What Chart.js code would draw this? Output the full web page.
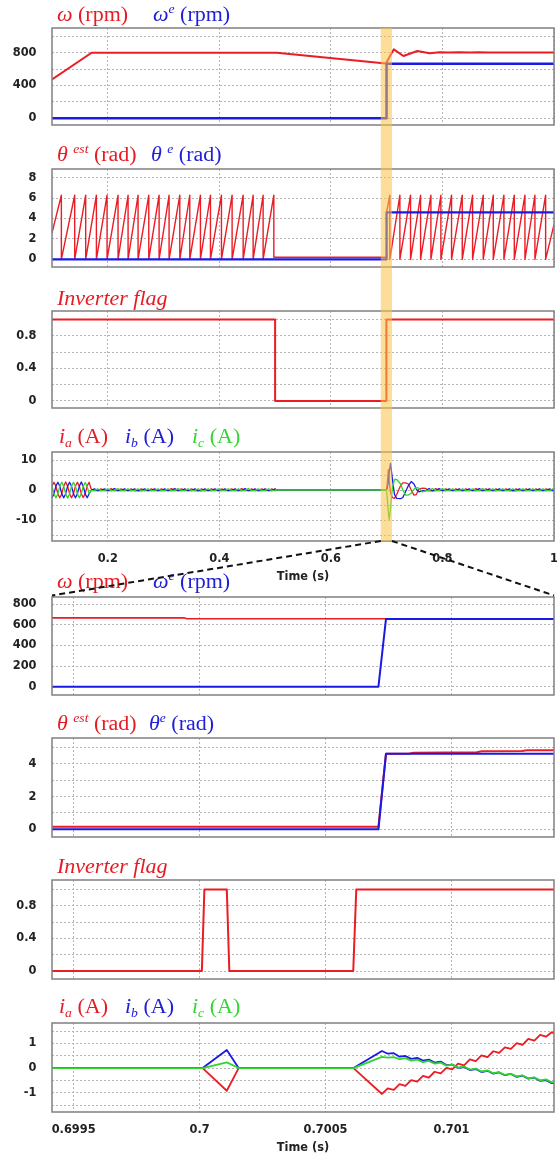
<!DOCTYPE html>
<html>
<head>
<meta charset="utf-8">
<title>Restart transient</title>
<script src="https://cdn.jsdelivr.net/npm/chart.js@4.4.1/dist/chart.umd.min.js"></script>
<style>
  html, body { margin: 0; padding: 0; background: #fff; }
  body { position: relative; width: 557px; height: 1157px; overflow: hidden; }
  canvas { position: absolute; left: 0; display: block; z-index: 1; }
  #overlay { top: 0; z-index: 5; pointer-events: none; }
  .t { position: absolute; z-index: 4; font: 20px/20px "Liberation Serif", "Times New Roman", serif;
       white-space: nowrap; transform: scaleX(1.1); transform-origin: 0 0; }
  .t i { font-style: italic; }
  .t sup { font-size: 62%; line-height: 0; position: relative; top: -0.65em; vertical-align: baseline; font-style: italic; }
  .t sub { font-size: 62%; line-height: 0; position: relative; top: 0.3em; vertical-align: baseline; }
  .red { color: #e51c24; }
  .blue { color: #2020d8; }
  .green { color: #33d633; }
</style>
</head>
<body>
<canvas id="overlay" width="557" height="1157"></canvas>
<script>
// ---- time axes ----
var fullRange = [0.1, 1.0];
var fullTicks = [0.2, 0.4, 0.6, 0.8, 1];
var zoomRange = [0.699414, 0.701407];
var zoomTicks = [0.6995, 0.7, 0.7005, 0.701];
var highlight = [0.6895, 0.7095];

// ---- speed, whole run ----
var speedEstT = [0.1, 0.171, 0.503, 0.6985, 0.7127, 0.73, 0.755, 0.777, 0.795, 0.81, 0.83, 0.85, 0.865, 0.88, 1.0];
var speedEst  = [475, 800, 800, 670, 841, 760, 821, 793, 805, 802, 806, 802, 807, 803, 803];
var speedEncT = [0.1, 0.6995, 0.6998, 1.0];
var speedEnc  = [0, 0, 665, 665];

// ---- angle, whole run (sawtooth peaks) ----
var thetaPeaksRun = [0.1168, 0.1407, 0.1604, 0.1796, 0.1987, 0.2184, 0.2364, 0.2543, 0.2735, 0.2920, 0.3099,
                     0.3291, 0.3470, 0.3661, 0.3841, 0.4038, 0.4229, 0.4427, 0.4606, 0.4785, 0.4977];
var thetaPeaksRestart = [0.7057, 0.7237, 0.7428, 0.7608, 0.7793, 0.7972, 0.8163, 0.8355, 0.8540, 0.8731,
                         0.8911, 0.9102, 0.9288, 0.9479, 0.9658, 0.9850];
var thetaStart = 2.6, thetaTop = 6.28, thetaHold = 0.2, thetaCatch = 4.6, thetaEnd = 3.4;
var thetaCatchT = [0.6995, 0.6998];
var thetaEncT = [0.1, 0.6995, 0.6998, 1.0];
var thetaEnc  = [0, 0, 4.6, 4.6];

// ---- inverter flag, whole run ----
var flagT = [0.1, 0.5, 0.5, 0.6995, 0.6995, 1.0];
var flag  = [1, 1, 0, 0, 1, 1];

// ---- phase currents, whole run ----
var tCur = [
  0.1, 0.1035, 0.107, 0.1105, 0.114, 0.1175, 0.121, 0.1245, 0.128, 0.1315, 0.135, 0.1385, 0.142, 0.1455, 0.149, 0.1525, 0.156, 0.1595, 0.163, 0.1665,
  0.17, 0.176, 0.182, 0.188, 0.194, 0.2, 0.206, 0.212, 0.218, 0.224, 0.23, 0.236, 0.242, 0.248, 0.254, 0.26, 0.266, 0.272, 0.278, 0.284,
  0.29, 0.296, 0.302, 0.308, 0.314, 0.32, 0.326, 0.332, 0.338, 0.344, 0.35, 0.356, 0.362, 0.368, 0.374, 0.38, 0.386, 0.392, 0.398, 0.404,
  0.41, 0.416, 0.422, 0.428, 0.434, 0.44, 0.446, 0.452, 0.458, 0.464, 0.47, 0.476, 0.482, 0.488, 0.494, 0.5,
  0.5005, 0.6995,
  0.701, 0.703, 0.7045, 0.707, 0.71, 0.714, 0.718, 0.725, 0.729, 0.734, 0.739, 0.744, 0.749, 0.753, 0.758, 0.764,
  0.77, 0.776, 0.782, 0.788, 0.794, 0.8, 0.806, 0.812, 0.818, 0.824, 0.83, 0.836, 0.842, 0.848, 0.854, 0.86, 0.866, 0.872, 0.878, 0.884,
  0.89, 0.896, 0.902, 0.908, 0.914, 0.92, 0.926, 0.932, 0.938, 0.944, 0.95, 0.956, 0.962, 0.968, 0.974, 0.98, 0.986, 0.992, 0.998, 1.004
];
var ia = [
  1.3, 2.6, 1.3, -1.3, -2.6, -1.3, 1.3, 2.7, 1.3, -1.3, -2.6, -1.3, 1.3, 2.6, 1.3, -1.3, -2.5, -1.2, 1.3, 2.6,
  0.4, -0.2, -0.2, 0.4, -0.2, -0.2, 0.45, -0.2, -0.2, 0.4, -0.2, -0.2, 0.4, -0.25, -0.2, 0.4, -0.2, -0.2, 0.4, -0.2,
  -0.2, 0.4, -0.2, -0.2, 0.45, -0.2, -0.2, 0.4, -0.2, -0.2, 0.4, -0.2, -0.25, 0.4, -0.2, -0.2, 0.4, -0.2, -0.2, 0.4,
  -0.2, -0.2, 0.4, -0.2, -0.2, 0.45, -0.2, -0.2, 0.4, -0.2, -0.2, 0.4, -0.2, -0.2, 0.4, -0.2,
  0, 0,
  2.0, 6.8, 3.0, -1.0, -2.5, -2.8, -1.5, 1.5, 2.4, 2.4, 2.0, 0.0, -1.7, -1.5, 0.3, 0.6,
  0.5, -0.25, -0.25, 0.45, -0.2, -0.2, 0.4, -0.2, -0.2, 0.4, -0.2, -0.2, 0.4, -0.2, -0.2, 0.45, -0.2, -0.2, 0.4, -0.2,
  -0.2, 0.4, -0.2, -0.2, 0.4, -0.25, -0.2, 0.4, -0.2, -0.2, 0.4, -0.2, -0.2, 0.4, -0.2, -0.2, 0.4, -0.2, -0.2, 0.4
];
var ib = [
  -2.6, -1.3, 1.3, 2.6, 1.3, -1.3, -2.6, -1.3, 1.3, 2.6, 1.3, -1.3, -2.6, -1.3, 1.3, 2.7, 1.3, -1.3, -2.6, -1.3,
  -0.2, 0.4, -0.2, -0.2, 0.4, -0.2, -0.2, 0.45, -0.2, -0.2, 0.4, -0.2, -0.2, 0.4, -0.25, -0.2, 0.4, -0.2, -0.2, 0.4,
  -0.2, -0.2, 0.4, -0.2, -0.2, 0.45, -0.2, -0.2, 0.4, -0.2, -0.2, 0.4, -0.2, -0.25, 0.4, -0.2, -0.2, 0.4, -0.2, -0.2,
  0.4, -0.2, -0.2, 0.4, -0.2, -0.2, 0.45, -0.2, -0.2, 0.4, -0.2, -0.2, 0.4, -0.2, -0.2, 0.4,
  0, 0,
  0.5, 2.5, 6.0, 8.9, 4.0, -1.5, -2.8, -2.9, -2.5, -0.5, 1.5, 2.8, 2.0, 0.3, -0.6, -0.2,
  -0.25, 0.5, -0.25, -0.2, 0.45, -0.2, -0.2, 0.4, -0.2, -0.2, 0.4, -0.2, -0.2, 0.4, -0.2, -0.2, 0.45, -0.2, -0.2, 0.4,
  -0.2, -0.2, 0.4, -0.2, -0.2, 0.4, -0.25, -0.2, 0.4, -0.2, -0.2, 0.4, -0.2, -0.2, 0.4, -0.2, -0.2, 0.4, -0.2, -0.2
];
var ic = [
  1.3, -1.3, -2.6, -1.3, 1.3, 2.6, 1.3, -1.3, -2.7, -1.3, 1.3, 2.6, 1.3, -1.3, -2.6, -1.3, 1.2, 2.5, 1.3, -1.3,
  -0.2, -0.2, 0.4, -0.2, -0.2, 0.4, -0.2, -0.2, 0.45, -0.2, -0.2, 0.4, -0.2, -0.2, 0.4, -0.25, -0.2, 0.4, -0.2, -0.2,
  0.4, -0.2, -0.2, 0.4, -0.2, -0.2, 0.45, -0.2, -0.2, 0.4, -0.2, -0.2, 0.4, -0.2, -0.25, 0.4, -0.2, -0.2, 0.4, -0.2,
  -0.2, 0.4, -0.2, -0.2, 0.4, -0.2, -0.2, 0.45, -0.2, -0.2, 0.4, -0.2, -0.2, 0.4, -0.2, -0.2,
  0, 0,
  -2.5, -7.5, -9.8, -6.0, 0.5, 3.5, 3.5, 2.0, 0.0, -1.7, -1.7, -1.0, 0.3, 0.8, 0.6, -0.6,
  -0.25, -0.25, 0.5, -0.2, -0.2, 0.45, -0.2, -0.2, 0.4, -0.2, -0.2, 0.4, -0.2, -0.2, 0.4, -0.2, -0.2, 0.45, -0.2, -0.2,
  0.4, -0.2, -0.2, 0.4, -0.2, -0.2, 0.4, -0.25, -0.2, 0.4, -0.2, -0.2, 0.4, -0.2, -0.2, 0.4, -0.2, -0.2, 0.4, -0.2
];

// ---- zoomed window around 0.7 s ----
var speedZEstT = [0.699414, 0.69994, 0.69995, 0.701407];
var speedZEst  = [668, 668, 660, 660];
var speedZEncT = [0.699414, 0.70071, 0.70074, 0.701407];
var speedZEnc  = [0, 0, 658, 658];

var thetaZEstT = [0.699414, 0.70071, 0.70074, 0.70083, 0.70085, 0.7011, 0.70112, 0.70128, 0.7013, 0.701407];
var thetaZEst  = [0.16, 0.16, 4.63, 4.63, 4.69, 4.72, 4.78, 4.8, 4.84, 4.84];
var thetaZEncT = [0.699414, 0.70071, 0.70074, 0.701407];
var thetaZEnc  = [0, 0, 4.63, 4.63];

var flagZT = [0.699414, 0.700009, 0.700019, 0.700108, 0.700118, 0.70061, 0.700622, 0.701407];
var flagZ  = [0, 0, 1, 1, 0, 0, 1, 1];

var tZCur = [0.699414, 0.700012, 0.700108, 0.700155, 0.700611,
  0.700724, 0.700747, 0.700771, 0.700794, 0.700817, 0.70084, 0.700864, 0.700887, 0.70091, 0.700933, 0.700957,
  0.70098, 0.701003, 0.701026, 0.70105, 0.701073, 0.701096, 0.701119, 0.701143, 0.701166, 0.701189,
  0.701212, 0.701236, 0.701259, 0.701282, 0.701305, 0.701329, 0.701352, 0.701375, 0.701398, 0.701421];
var iaZ = [0, 0, -0.92, 0, 0,
  -1.05, -0.82, -0.88, -0.65, -0.72, -0.49, -0.55, -0.32, -0.39, -0.15, -0.22,
  0.01, -0.05, 0.18, 0.11, 0.35, 0.28, 0.51, 0.44, 0.68, 0.61,
  0.84, 0.78, 1.01, 0.94, 1.18, 1.11, 1.34, 1.27, 1.45, 1.32];
var ibZ = [0, 0, 0.73, 0, 0,
  0.69, 0.58, 0.6, 0.46, 0.49, 0.37, 0.41, 0.3, 0.34, 0.22, 0.26,
  0.12, 0.14, 0.01, 0.04, -0.08, -0.04, -0.16, -0.11, -0.23, -0.18,
  -0.29, -0.24, -0.36, -0.31, -0.43, -0.39, -0.52, -0.49, -0.61, -0.58];
var icZ = [0, 0, 0.23, 0, 0,
  0.45, 0.42, 0.44, 0.36, 0.4, 0.3, 0.34, 0.24, 0.29, 0.18, 0.22,
  0.1, 0.14, 0.02, 0.06, -0.06, -0.02, -0.14, -0.1, -0.21, -0.17,
  -0.28, -0.24, -0.34, -0.3, -0.42, -0.38, -0.5, -0.46, -0.58, -0.55];

// ---- styling ----
var RED = 'rgb(236,28,36)', BLUE = 'rgb(26,26,228)', GREEN = 'rgb(46,214,46)';
var GRID = '#b4b4b4';
var TICKFONT = { family: 'DejaVu Sans', size: 11.4, weight: 'bold' };
var TICKCOLOR = '#222';

function pts(xs, ys) {
  return xs.map(function (x, i) { return { x: x, y: ys[i] }; });
}

function sawtooth() {
  var out = [{ x: fullRange[0], y: thetaStart }];
  thetaPeaksRun.forEach(function (p, i) {
    out.push({ x: p, y: thetaTop }, { x: p, y: i === thetaPeaksRun.length - 1 ? thetaHold : 0 });
  });
  out.push({ x: thetaCatchT[0], y: thetaHold }, { x: thetaCatchT[1], y: thetaCatch });
  thetaPeaksRestart.forEach(function (p) {
    out.push({ x: p, y: thetaTop }, { x: p, y: 0 });
  });
  out.push({ x: fullRange[1], y: thetaEnd });
  return out;
}

function line(data, color, width, order) {
  return { data: data, borderColor: color, borderWidth: width, pointRadius: 0,
           fill: false, tension: 0, order: order, borderJoinStyle: 'round' };
}

var frame = {
  id: 'frame',
  afterDatasetsDraw: function (chart) {
    var a = chart.chartArea, ctx = chart.ctx;
    ctx.save();
    ctx.strokeStyle = '#808080';
    ctx.lineWidth = 1.5;
    ctx.strokeRect(a.left, a.top, a.right - a.left, a.bottom - a.top);
    ctx.restore();
  }
};

var panels = [
  { top: 28, bottom: 125, zoom: false, labels: false, ymin: -82, ymax: 1102,
    ygrid: [0, 200, 400, 600, 800, 1000], ylab: [0, 400, 800],
    sets: [line(pts(speedEncT, speedEnc), BLUE, 2.5, 0), line(pts(speedEstT, speedEst), RED, 2, 1)] },
  { top: 169, bottom: 267, zoom: false, labels: false, ymin: -0.75, ymax: 8.85,
    ygrid: [0, 2, 4, 6, 8], ylab: [0, 2, 4, 6, 8],
    sets: [line(pts(thetaEncT, thetaEnc), BLUE, 2.2, 0), line(sawtooth(), RED, 1.4, 1)] },
  { top: 311, bottom: 408, zoom: false, labels: false, ymin: -0.086, ymax: 1.103,
    ygrid: [0, 0.2, 0.4, 0.6, 0.8, 1], ylab: [0, 0.4, 0.8],
    sets: [line(pts(flagT, flag), RED, 2, 0)] },
  { top: 452, bottom: 541, zoom: false, labels: true, ymin: -17, ymax: 12.67,
    ygrid: [-15, -10, -5, 0, 5, 10], ylab: [-10, 0, 10],
    sets: [line(pts(tCur, ic), GREEN, 1.3, 0), line(pts(tCur, ib), BLUE, 1.3, 1), line(pts(tCur, ia), RED, 1.3, 2)] },
  { top: 597, bottom: 695, zoom: true, labels: false, ymin: -81, ymax: 871,
    ygrid: [0, 200, 400, 600, 800], ylab: [0, 200, 400, 600, 800],
    sets: [line(pts(speedZEncT, speedZEnc), BLUE, 2, 0), line(pts(speedZEstT, speedZEst), RED, 1.6, 1)] },
  { top: 738, bottom: 837, zoom: true, labels: false, ymin: -0.47, ymax: 5.59,
    ygrid: [0, 1, 2, 3, 4, 5], ylab: [0, 2, 4],
    sets: [line(pts(thetaZEncT, thetaZEnc), BLUE, 2, 0), line(pts(thetaZEstT, thetaZEst), RED, 2, 1)] },
  { top: 880, bottom: 979, zoom: true, labels: false, ymin: -0.098, ymax: 1.115,
    ygrid: [0, 0.2, 0.4, 0.6, 0.8, 1], ylab: [0, 0.4, 0.8],
    sets: [line(pts(flagZT, flagZ), RED, 2, 0)] },
  { top: 1023, bottom: 1112, zoom: true, labels: true, ymin: -1.78, ymax: 1.824,
    ygrid: [-1.5, -1, -0.5, 0, 0.5, 1, 1.5], ylab: [-1, 0, 1],
    sets: [line(pts(tZCur, icZ), GREEN, 1.8, 0), line(pts(tZCur, ibZ), BLUE, 1.8, 1), line(pts(tZCur, iaZ), RED, 1.8, 2)] }
];

var charts = panels.map(function (p) {
  var padTop = 4, extra = p.labels ? 45 : 4;
  var cv = document.createElement('canvas');
  cv.width = 557;
  cv.height = (p.bottom - p.top) + padTop + extra;
  p.canvasTop = p.top - padTop;
  cv.style.top = p.canvasTop + 'px';
  document.body.appendChild(cv);
  var xr = p.zoom ? zoomRange : fullRange;
  var xt = p.zoom ? zoomTicks : fullTicks;
  return new Chart(cv, {
    type: 'line',
    data: { datasets: p.sets },
    plugins: [frame],
    options: {
      responsive: false,
      animation: false,
      events: [],
      layout: { padding: { top: padTop, right: 3, bottom: p.labels ? 0 : 4, left: 0 } },
      plugins: { legend: { display: false }, tooltip: { enabled: false } },
      scales: {
        x: {
          type: 'linear', min: xr[0], max: xr[1],
          afterBuildTicks: function (s) { s.ticks = xt.map(function (v) { return { value: v }; }); },
          afterFit: function (s) { s.height = p.labels ? 45 : 0; s.paddingLeft = 0; s.paddingRight = 0; },
          grid: { color: GRID, lineWidth: 1, drawTicks: false },
          border: { display: false, dash: [2, 2] },
          ticks: { display: p.labels, padding: 11, font: TICKFONT, color: TICKCOLOR,
                   maxRotation: 0, autoSkip: false, callback: function (v) { return String(v); } },
          title: { display: p.labels, text: 'Time (s)', font: TICKFONT, color: TICKCOLOR,
                   padding: { top: 0, bottom: 2 } }
        },
        y: {
          type: 'linear', min: p.ymin, max: p.ymax,
          afterBuildTicks: function (s) { s.ticks = p.ygrid.map(function (v) { return { value: v }; }); },
          afterFit: function (s) { s.width = 52; s.paddingTop = 0; s.paddingBottom = 0; },
          grid: { color: GRID, lineWidth: 1, drawTicks: false },
          border: { display: false, dash: [2, 2] },
          ticks: { padding: 15.5, font: TICKFONT, color: TICKCOLOR, autoSkip: false,
                   callback: function (v) { return p.ylab.indexOf(v) >= 0 ? String(v) : ''; } }
        }
      }
    }
  });
});

// ---- panel titles ----
var speedTitle = [{ left: 57, cls: 'red', html: '<i>&omega;</i> (rpm)' },
                  { left: 153, cls: 'blue', html: '<i>&omega;</i><sup>e</sup> (rpm)' }];
var curTitle = [{ left: 58.7, cls: 'red', html: '<i>i<sub>a</sub></i> (A)' },
                { left: 125, cls: 'blue', html: '<i>i<sub>b</sub></i> (A)' },
                { left: 192, cls: 'green', html: '<i>i<sub>c</sub></i> (A)' }];
var flagTitle = [{ left: 57, cls: 'red', html: '<i>Inverter flag</i>' }];
var titles = [
  { top: 4, parts: speedTitle },
  { top: 144, parts: [{ left: 57, cls: 'red', html: '<i>&theta;</i> <sup>est</sup> (rad)' },
                      { left: 151, cls: 'blue', html: '<i>&theta;</i> <sup>e</sup> (rad)' }] },
  { top: 288, parts: flagTitle },
  { top: 426, parts: curTitle },
  { top: 571, parts: speedTitle },
  { top: 713, parts: [{ left: 57, cls: 'red', html: '<i>&theta;</i> <sup>est</sup> (rad)' },
                      { left: 149, cls: 'blue', html: '<i>&theta;</i><sup>e</sup> (rad)' }] },
  { top: 856, parts: flagTitle },
  { top: 996, parts: curTitle }
];
titles.forEach(function (t) {
  t.parts.forEach(function (part) {
    var s = document.createElement('span');
    s.className = 't ' + part.cls;
    s.style.left = part.left + 'px';
    s.style.top = t.top + 'px';
    s.innerHTML = part.html;
    document.body.appendChild(s);
  });
});

// ---- highlight band over the top four panels and zoom connectors ----
(function () {
  var ov = document.getElementById('overlay');
  document.body.appendChild(ov);
  var ctx = ov.getContext('2d');
  var c1 = charts[0], c4 = charts[3], c5 = charts[4];
  var xa = c1.scales.x.getPixelForValue(highlight[0]);
  var xb = c1.scales.x.getPixelForValue(highlight[1]);
  var yTop = panels[0].canvasTop + c1.chartArea.top;
  var yBot = panels[3].canvasTop + c4.chartArea.bottom;
  var zTop = panels[4].canvasTop + c5.chartArea.top - 1.5;
  ctx.fillStyle = 'rgba(250,195,70,0.55)';
  ctx.fillRect(xa, yTop, xb - xa, yBot - yTop);
  ctx.strokeStyle = '#111';
  ctx.lineWidth = 2;
  ctx.setLineDash([6, 4]);
  ctx.beginPath();
  ctx.moveTo(xa, yBot);
  ctx.lineTo(c5.chartArea.left, zTop);
  ctx.moveTo(xb, yBot);
  ctx.lineTo(c5.chartArea.right, zTop);
  ctx.stroke();
})();
</script>
</body>
</html>
